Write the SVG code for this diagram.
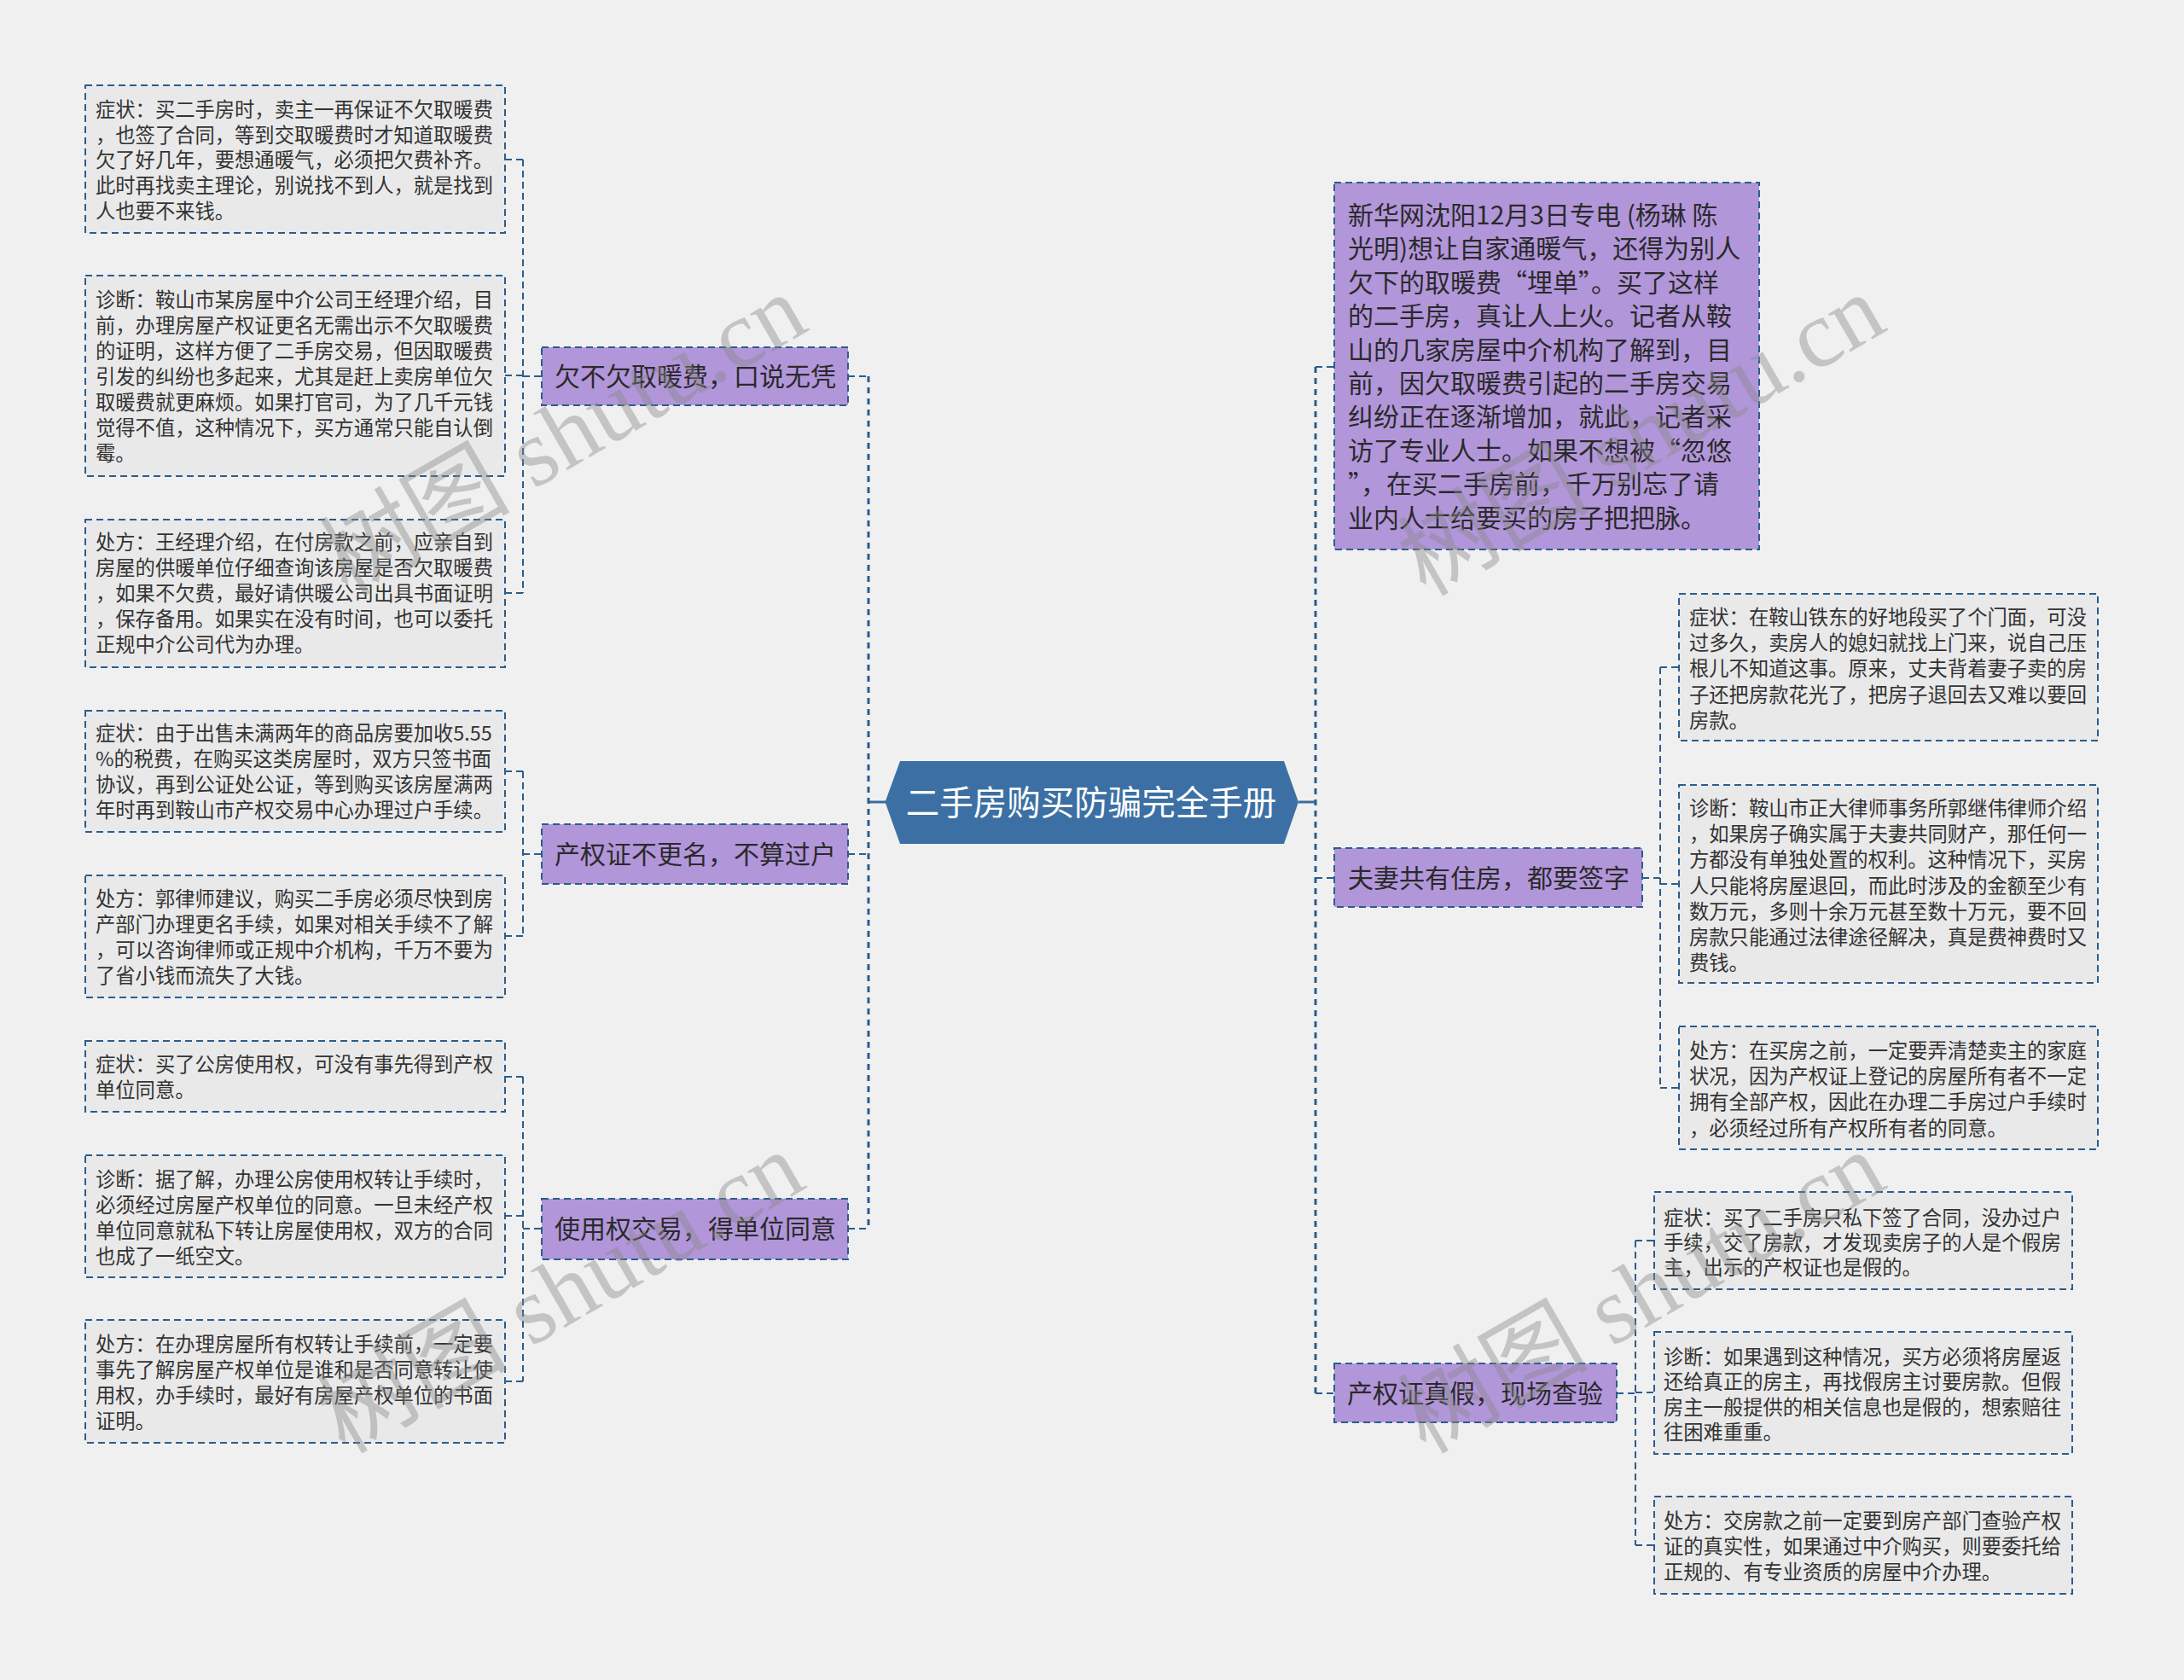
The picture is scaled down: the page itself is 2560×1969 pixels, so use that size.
<svg xmlns="http://www.w3.org/2000/svg" width="2560" height="1969" viewBox="0 0 2560 1969">
<style>
.bg{fill:#f0f0f0}
.box{fill:#e9e9e9;stroke:#2b5d8c;stroke-width:2;stroke-dasharray:8 5}
.node{fill:#b296da;stroke:#2b5d8c;stroke-width:2;stroke-dasharray:8 5}
.t{font-family:"Noto Sans CJK SC","Noto Sans",sans-serif;font-size:23.3px;fill:#333}
.nt{font-family:"Noto Sans CJK SC","Noto Sans",sans-serif;font-size:30px;fill:#2a2a2a}
.ct{font-family:"Noto Sans CJK SC","Noto Sans",sans-serif;font-size:39.5px;fill:#ffffff}
.c{fill:none;stroke:#2b5d8c;stroke-width:2;stroke-dasharray:8 5}
.tr{fill:none;stroke:#2b5d8c;stroke-width:3;stroke-dasharray:7 6}
.solid{fill:none;stroke:#3a6c9e;stroke-width:3}
.wm{font-family:"Liberation Serif","Noto Sans CJK SC",serif;font-size:112px;fill:#888;opacity:0.42}
</style>
<rect class="bg" x="0" y="0" width="2560" height="1969"/>

<g id="connectors">
  <!-- central to trunks -->
  <line class="solid" x1="1018" y1="940" x2="1038" y2="940"/>
  <line class="solid" x1="1522" y1="940" x2="1542" y2="940"/>
  <!-- left trunk -->
  <line class="tr" x1="1018" y1="441" x2="1018" y2="1440"/>
  <line class="c" x1="994" y1="441" x2="1018" y2="441"/>
  <line class="c" x1="994" y1="1001" x2="1018" y2="1001"/>
  <line class="c" x1="994" y1="1440" x2="1018" y2="1440"/>
  <!-- left sub A -->
  <line class="c" x1="613" y1="187" x2="613" y2="695"/>
  <line class="c" x1="613" y1="441" x2="635" y2="441"/>
  <line class="c" x1="592" y1="187" x2="613" y2="187"/>
  <line class="c" x1="592" y1="440" x2="613" y2="440"/>
  <line class="c" x1="592" y1="695" x2="613" y2="695"/>
  <!-- left sub B -->
  <line class="c" x1="613" y1="904" x2="613" y2="1097"/>
  <line class="c" x1="613" y1="1001" x2="635" y2="1001"/>
  <line class="c" x1="592" y1="904" x2="613" y2="904"/>
  <line class="c" x1="592" y1="1097" x2="613" y2="1097"/>
  <!-- left sub C -->
  <line class="c" x1="613" y1="1262" x2="613" y2="1619"/>
  <line class="c" x1="613" y1="1440" x2="635" y2="1440"/>
  <line class="c" x1="592" y1="1262" x2="613" y2="1262"/>
  <line class="c" x1="592" y1="1425" x2="613" y2="1425"/>
  <line class="c" x1="592" y1="1619" x2="613" y2="1619"/>
  <!-- right trunk -->
  <line class="tr" x1="1542" y1="430" x2="1542" y2="1633"/>
  <line class="c" x1="1542" y1="430" x2="1564" y2="430"/>
  <line class="c" x1="1542" y1="1029" x2="1564" y2="1029"/>
  <line class="c" x1="1542" y1="1633" x2="1564" y2="1633"/>
  <!-- right sub D -->
  <line class="c" x1="1925" y1="1029" x2="1946" y2="1029"/>
  <line class="c" x1="1946" y1="782" x2="1946" y2="1275"/>
  <line class="c" x1="1946" y1="782" x2="1968" y2="782"/>
  <line class="c" x1="1946" y1="1036" x2="1968" y2="1036"/>
  <line class="c" x1="1946" y1="1275" x2="1968" y2="1275"/>
  <!-- right sub E -->
  <line class="c" x1="1895" y1="1633" x2="1917" y2="1633"/>
  <line class="c" x1="1917" y1="1454" x2="1917" y2="1811"/>
  <line class="c" x1="1917" y1="1454" x2="1939" y2="1454"/>
  <line class="c" x1="1917" y1="1632" x2="1939" y2="1632"/>
  <line class="c" x1="1917" y1="1811" x2="1939" y2="1811"/>
</g>

<g id="center">
  <polygon points="1037.5,940 1055,892 1505,892 1522,940 1505,989 1055,989" fill="#3c70a4"/>
  <text class="ct" x="1279" y="955" text-anchor="middle">二手房购买防骗完全手册</text>
</g>

<g id="n1">
  <rect class="node" x="635" y="407" width="359" height="68"/>
  <text class="nt" x="650" y="452">欠不欠取暖费，口说无凭</text>
</g>
<g id="n1a">
  <rect class="box" x="100" y="100" width="492" height="173"/>
  <text class="t" x="112" y="137"><tspan x="112">症状：买二手房时，卖主一再保证不欠取暖费</tspan><tspan x="112" dy="29.7">，也签了合同，等到交取暖费时才知道取暖费</tspan><tspan x="112" dy="29.7">欠了好几年，要想通暖气，必须把欠费补齐。</tspan><tspan x="112" dy="29.7">此时再找卖主理论，别说找不到人，就是找到</tspan><tspan x="112" dy="29.7">人也要不来钱。</tspan></text>
</g>
<g id="n1b">
  <rect class="box" x="100" y="323" width="492" height="235"/>
  <text class="t" x="112" y="360"><tspan x="112">诊断：鞍山市某房屋中介公司王经理介绍，目</tspan><tspan x="112" dy="30">前，办理房屋产权证更名无需出示不欠取暖费</tspan><tspan x="112" dy="30">的证明，这样方便了二手房交易，但因取暖费</tspan><tspan x="112" dy="30">引发的纠纷也多起来，尤其是赶上卖房单位欠</tspan><tspan x="112" dy="30">取暖费就更麻烦。如果打官司，为了几千元钱</tspan><tspan x="112" dy="30">觉得不值，这种情况下，买方通常只能自认倒</tspan><tspan x="112" dy="30">霉。</tspan></text>
</g>
<g id="n1c">
  <rect class="box" x="100" y="609" width="492" height="173"/>
  <text class="t" x="112" y="644"><tspan x="112">处方：王经理介绍，在付房款之前，应亲自到</tspan><tspan x="112" dy="30">房屋的供暖单位仔细查询该房屋是否欠取暖费</tspan><tspan x="112" dy="30">，如果不欠费，最好请供暖公司出具书面证明</tspan><tspan x="112" dy="30">，保存备用。如果实在没有时间，也可以委托</tspan><tspan x="112" dy="30">正规中介公司代为办理。</tspan></text>
</g>

<g id="n2">
  <rect class="node" x="635" y="966" width="359" height="70"/>
  <text class="nt" x="650" y="1012">产权证不更名，不算过户</text>
</g>
<g id="n2a">
  <rect class="box" x="100" y="833" width="492" height="142"/>
  <text class="t" x="112" y="868"><tspan x="112">症状：由于出售未满两年的商品房要加收5.55</tspan><tspan x="112" dy="30">%的税费，在购买这类房屋时，双方只签书面</tspan><tspan x="112" dy="30">协议，再到公证处公证，等到购买该房屋满两</tspan><tspan x="112" dy="30">年时再到鞍山市产权交易中心办理过户手续。</tspan></text>
</g>
<g id="n2b">
  <rect class="box" x="100" y="1026" width="492" height="143"/>
  <text class="t" x="112" y="1062"><tspan x="112">处方：郭律师建议，购买二手房必须尽快到房</tspan><tspan x="112" dy="30">产部门办理更名手续，如果对相关手续不了解</tspan><tspan x="112" dy="30">，可以咨询律师或正规中介机构，千万不要为</tspan><tspan x="112" dy="30">了省小钱而流失了大钱。</tspan></text>
</g>

<g id="n3">
  <rect class="node" x="635" y="1405" width="359" height="71"/>
  <text class="nt" x="650" y="1451">使用权交易，得单位同意</text>
</g>
<g id="n3a">
  <rect class="box" x="100" y="1220" width="492" height="83"/>
  <text class="t" x="112" y="1256"><tspan x="112">症状：买了公房使用权，可没有事先得到产权</tspan><tspan x="112" dy="30">单位同意。</tspan></text>
</g>
<g id="n3b">
  <rect class="box" x="100" y="1354" width="492" height="143"/>
  <text class="t" x="112" y="1391"><tspan x="112">诊断：据了解，办理公房使用权转让手续时，</tspan><tspan x="112" dy="30">必须经过房屋产权单位的同意。一旦未经产权</tspan><tspan x="112" dy="30">单位同意就私下转让房屋使用权，双方的合同</tspan><tspan x="112" dy="30">也成了一纸空文。</tspan></text>
</g>
<g id="n3c">
  <rect class="box" x="100" y="1547" width="492" height="144"/>
  <text class="t" x="112" y="1584"><tspan x="112">处方：在办理房屋所有权转让手续前，一定要</tspan><tspan x="112" dy="30">事先了解房屋产权单位是谁和是否同意转让使</tspan><tspan x="112" dy="30">用权，办手续时，最好有房屋产权单位的书面</tspan><tspan x="112" dy="30">证明。</tspan></text>
</g>

<g id="intro">
  <rect class="node" x="1564" y="214" width="498" height="430"/>
  <text class="nt" x="1580" y="263"><tspan x="1580">新华网沈阳12月3日专电 (杨琳 陈</tspan><tspan x="1580" dy="39.4">光明)想让自家通暖气，还得为别人</tspan><tspan x="1580" dy="39.4">欠下的取暖费“埋单”。买了这样</tspan><tspan x="1580" dy="39.4">的二手房，真让人上火。记者从鞍</tspan><tspan x="1580" dy="39.4">山的几家房屋中介机构了解到，目</tspan><tspan x="1580" dy="39.4">前，因欠取暖费引起的二手房交易</tspan><tspan x="1580" dy="39.4">纠纷正在逐渐增加，就此，记者采</tspan><tspan x="1580" dy="39.4">访了专业人士。如果不想被“忽悠</tspan><tspan x="1580" dy="39.4">”，在买二手房前，千万别忘了请</tspan><tspan x="1580" dy="39.4">业内人士给要买的房子把把脉。</tspan></text>
</g>

<g id="r1">
  <rect class="node" x="1564" y="994" width="361" height="69"/>
  <text class="nt" x="1580" y="1040">夫妻共有住房，都要签字</text>
</g>
<g id="r1a">
  <rect class="box" x="1968" y="696" width="491" height="172"/>
  <text class="t" x="1980" y="732"><tspan x="1980">症状：在鞍山铁东的好地段买了个门面，可没</tspan><tspan x="1980" dy="30.2">过多久，卖房人的媳妇就找上门来，说自己压</tspan><tspan x="1980" dy="30.2">根儿不知道这事。原来，丈夫背着妻子卖的房</tspan><tspan x="1980" dy="30.2">子还把房款花光了，把房子退回去又难以要回</tspan><tspan x="1980" dy="30.2">房款。</tspan></text>
</g>
<g id="r1b">
  <rect class="box" x="1968" y="920" width="491" height="232"/>
  <text class="t" x="1980" y="956"><tspan x="1980">诊断：鞍山市正大律师事务所郭继伟律师介绍</tspan><tspan x="1980" dy="30.2">，如果房子确实属于夫妻共同财产，那任何一</tspan><tspan x="1980" dy="30.2">方都没有单独处置的权利。这种情况下，买房</tspan><tspan x="1980" dy="30.2">人只能将房屋退回，而此时涉及的金额至少有</tspan><tspan x="1980" dy="30.2">数万元，多则十余万元甚至数十万元，要不回</tspan><tspan x="1980" dy="30.2">房款只能通过法律途径解决，真是费神费时又</tspan><tspan x="1980" dy="30.2">费钱。</tspan></text>
</g>
<g id="r1c">
  <rect class="box" x="1968" y="1203" width="491" height="144"/>
  <text class="t" x="1980" y="1240"><tspan x="1980">处方：在买房之前，一定要弄清楚卖主的家庭</tspan><tspan x="1980" dy="30.2">状况，因为产权证上登记的房屋所有者不一定</tspan><tspan x="1980" dy="30.2">拥有全部产权，因此在办理二手房过户手续时</tspan><tspan x="1980" dy="30.2">，必须经过所有产权所有者的同意。</tspan></text>
</g>

<g id="r2">
  <rect class="node" x="1564" y="1598" width="331" height="69"/>
  <text class="nt" x="1579" y="1644">产权证真假，现场查验</text>
</g>
<g id="r2a">
  <rect class="box" x="1939" y="1397" width="490" height="114"/>
  <text class="t" x="1950" y="1436"><tspan x="1950">症状：买了二手房只私下签了合同，没办过户</tspan><tspan x="1950" dy="29.2">手续，交了房款，才发现卖房子的人是个假房</tspan><tspan x="1950" dy="29.2">主，出示的产权证也是假的。</tspan></text>
</g>
<g id="r2b">
  <rect class="box" x="1939" y="1561" width="490" height="143"/>
  <text class="t" x="1950" y="1599"><tspan x="1950">诊断：如果遇到这种情况，买方必须将房屋返</tspan><tspan x="1950" dy="29.3">还给真正的房主，再找假房主讨要房款。但假</tspan><tspan x="1950" dy="29.3">房主一般提供的相关信息也是假的，想索赔往</tspan><tspan x="1950" dy="29.3">往困难重重。</tspan></text>
</g>
<g id="r2c">
  <rect class="box" x="1939" y="1754" width="490" height="114"/>
  <text class="t" x="1950" y="1791"><tspan x="1950">处方：交房款之前一定要到房产部门查验产权</tspan><tspan x="1950" dy="30">证的真实性，如果通过中介购买，则要委托给</tspan><tspan x="1950" dy="30">正规的、有专业资质的房屋中介办理。</tspan></text>
</g>

<g id="watermarks">
  <text class="wm" x="660" y="510" text-anchor="middle" dominant-baseline="central" transform="rotate(-30 660 510)">树图 shutu.cn</text>
  <text class="wm" x="1924" y="510" text-anchor="middle" dominant-baseline="central" transform="rotate(-30 1924 510)">树图 shutu.cn</text>
  <text class="wm" x="657" y="1515" text-anchor="middle" dominant-baseline="central" transform="rotate(-30 657 1515)">树图 shutu.cn</text>
  <text class="wm" x="1924" y="1515" text-anchor="middle" dominant-baseline="central" transform="rotate(-30 1924 1515)">树图 shutu.cn</text>
</g>
</svg>
